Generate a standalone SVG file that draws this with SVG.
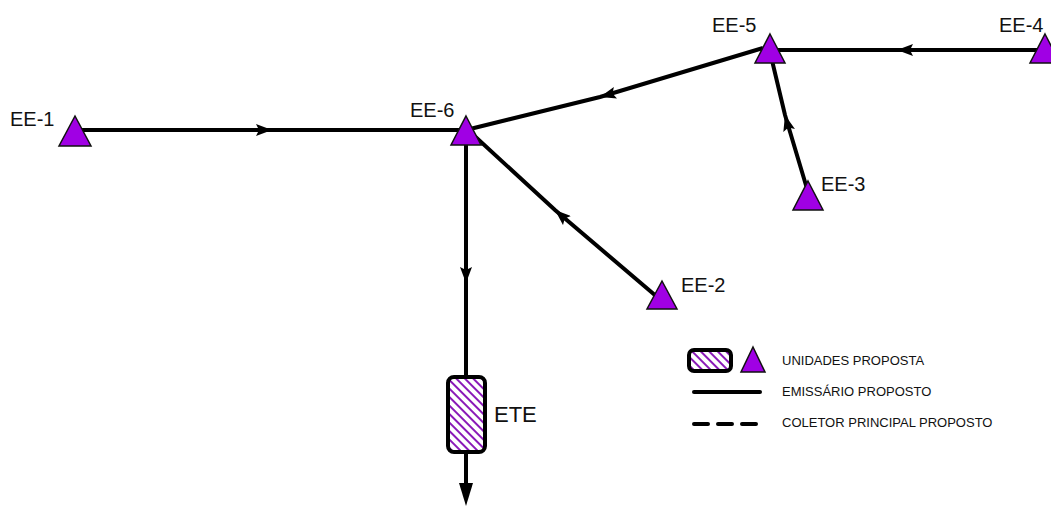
<svg xmlns="http://www.w3.org/2000/svg" width="1051" height="506" viewBox="0 0 1051 506">
<style>
.lbl{font-family:"Liberation Sans",Arial,sans-serif;font-size:20px;fill:#111}
.leg{font-family:"Liberation Sans",Arial,sans-serif;font-size:13px;fill:#111}
.tri{fill:#a000e4;stroke:#111;stroke-width:1.5;stroke-linejoin:miter}
.pipe{fill:none;stroke:#000;stroke-width:4;marker-mid:url(#ah)}
</style>
<defs>
<marker id="ah" viewBox="0 0 16 12" refX="16" refY="6" markerWidth="16" markerHeight="12" markerUnits="userSpaceOnUse" orient="auto">
<path d="M0,0 L16,6 L0,12 L3,6 Z" fill="#000"/>
</marker>
<pattern id="hatch" width="6" height="6" patternUnits="userSpaceOnUse" patternTransform="rotate(-45)">
<rect width="6" height="6" fill="#fff"/>
<line x1="1" y1="0" x2="1" y2="6" stroke="#8a1ab8" stroke-width="2"/>
</pattern>
</defs>
<rect width="1051" height="506" fill="#fff"/>
<g id="connectors">
<polyline class="pipe" points="80,130 272,130 462,130"/>
<polyline class="pipe" points="1040,50 897,50 770,50"/>
<polyline class="pipe" points="763,48 600,97 470,129"/>
<polyline class="pipe" points="808,192 785,115 770,52"/>
<polyline class="pipe" points="656,296 555,210 468,130"/>
<polyline class="pipe" points="466,140 466,283 466,378"/>
<line x1="466" y1="453" x2="466" y2="488" stroke="#000" stroke-width="4"/>
<path d="M459,483 L473,483 L466,506 Z" fill="#000"/>
</g>
<g id="EE-1">
<polygon class="tri" points="75,116 91,146 59,146"/>
<text class="lbl" x="10" y="126">EE-1</text>
</g>
<g id="EE-6">
<polygon class="tri" points="466,116 481,145 451,145"/>
<text class="lbl" x="410" y="117">EE-6</text>
</g>
<g id="EE-5">
<polygon class="tri" points="770,34 785,63 755,63"/>
<text class="lbl" x="712" y="32">EE-5</text>
</g>
<g id="EE-4">
<polygon class="tri" points="1045,34 1060,63 1030,63"/>
<text class="lbl" x="999" y="32">EE-4</text>
</g>
<g id="EE-3">
<polygon class="tri" points="808,181 823,210 793,210"/>
<text class="lbl" x="821" y="191">EE-3</text>
</g>
<g id="EE-2">
<polygon class="tri" points="662,281 677,309 647,309"/>
<text class="lbl" x="681" y="292">EE-2</text>
</g>
<g id="ETE">
<rect x="448" y="377" width="37" height="75" rx="6" fill="url(#hatch)" stroke="#000" stroke-width="4"/>
<text class="lbl" x="494" y="422" style="font-size:22px">ETE</text>
</g>
<g id="legend">
<rect x="689" y="350" width="42" height="21" rx="5" fill="url(#hatch)" stroke="#000" stroke-width="4"/>
<polygon class="tri" points="753,347 765,372 741,372"/>
<text class="leg" x="782" y="365">UNIDADES PROPOSTA</text>
<line x1="694" y1="392" x2="760" y2="392" stroke="#000" stroke-width="4" stroke-linecap="round"/>
<text class="leg" x="782" y="396">EMISSÁRIO PROPOSTO</text>
<line x1="694" y1="424" x2="760" y2="424" stroke="#000" stroke-width="4" stroke-linecap="round" stroke-dasharray="14,10"/>
<text class="leg" x="782" y="427">COLETOR PRINCIPAL PROPOSTO</text>
</g>
</svg>
